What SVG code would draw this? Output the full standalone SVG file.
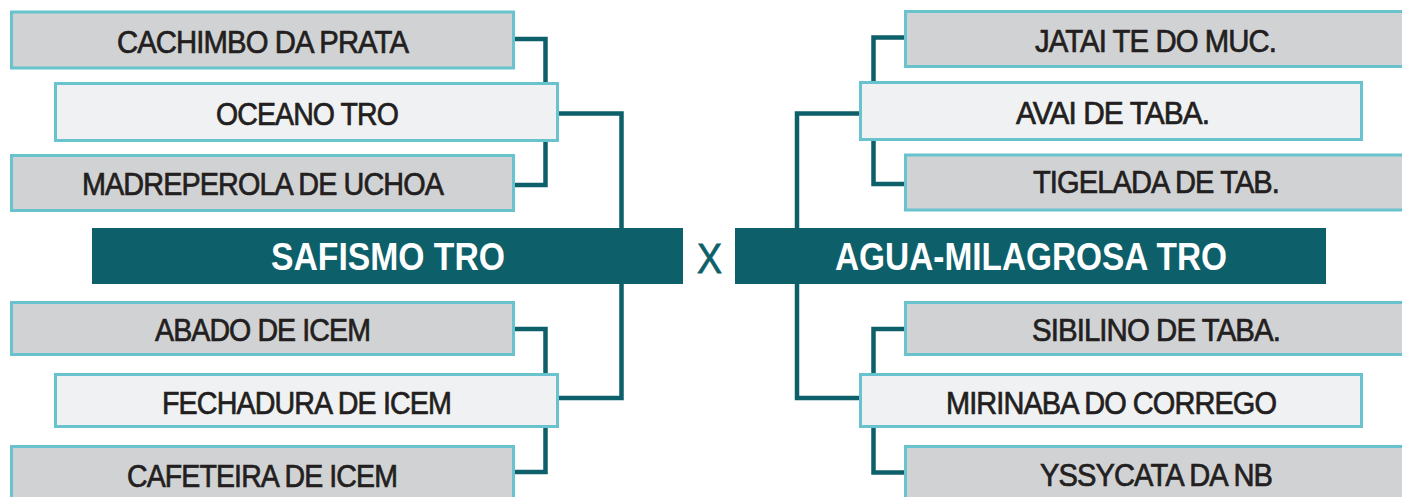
<svg xmlns="http://www.w3.org/2000/svg" width="1402" height="497" viewBox="0 0 1402 497">
<style>
.box{stroke:#68c3cf;stroke-width:3}
.g{fill:#d1d2d4}
.l{fill:#f0f1f3}
.bar{fill:#0d5f6a}
.t{font-family:"Liberation Sans",Arial,sans-serif;font-size:32px;fill:#231f20;stroke:#231f20;stroke-width:0.7px;letter-spacing:-1px}
.bt{font-family:"Liberation Sans",Arial,sans-serif;font-size:38px;font-weight:bold;fill:#ffffff}
.x{font-family:"Liberation Sans",Arial,sans-serif;font-size:42px;fill:#0d5f6a;stroke:#0d5f6a;stroke-width:0.8px}
.c{fill:none;stroke:#0d5f6a;stroke-width:4.5;stroke-linejoin:miter;stroke-linecap:butt}
</style>
<rect width="1402" height="497" fill="#ffffff"/>
<g id="connectors">
<path class="c" d="M515 39 H545.5 V82"/>
<path class="c" d="M515 185 H545.5 V141"/>
<path class="c" d="M559 113.5 H621.5 V228"/>
<path class="c" d="M621.5 284 V398 H559"/>
<path class="c" d="M515 329 H545.5 V373"/>
<path class="c" d="M515 472 H545.5 V428"/>
<path class="c" d="M904 37.5 H873.5 V81"/>
<path class="c" d="M904 184 H873.5 V141"/>
<path class="c" d="M860 113.5 H797 V228"/>
<path class="c" d="M797 284 V398 H860"/>
<path class="c" d="M904 329 H873.5 V373"/>
<path class="c" d="M904 472.5 H873.5 V428"/>
</g>
<g id="cachimbo"><rect class="box g" x="11.5" y="12" width="502" height="56"/><text class="t" x="117" y="53" textLength="291" lengthAdjust="spacingAndGlyphs">CACHIMBO DA PRATA</text></g>
<g id="oceano"><rect class="box l" x="55.5" y="83.5" width="502" height="57"/><text class="t" x="216" y="125" textLength="182" lengthAdjust="spacingAndGlyphs">OCEANO TRO</text></g>
<g id="madreperola"><rect class="box g" x="11.5" y="155.5" width="502" height="55"/><text class="t" x="82" y="195" textLength="361" lengthAdjust="spacingAndGlyphs">MADREPEROLA DE UCHOA</text></g>
<g id="safismo"><rect class="bar" x="92" y="228" width="591" height="56"/><text class="bt" x="271" y="270" textLength="234" lengthAdjust="spacingAndGlyphs">SAFISMO TRO</text></g>
<g id="versus"><text class="x" x="697" y="273" textLength="25" lengthAdjust="spacingAndGlyphs">X</text></g>
<g id="agua"><rect class="bar" x="735" y="228" width="591" height="56"/><text class="bt" x="835" y="270" textLength="392" lengthAdjust="spacingAndGlyphs">AGUA-MILAGROSA TRO</text></g>
<g id="abado"><rect class="box g" x="11.5" y="302.5" width="502" height="52"/><text class="t" x="155" y="341" textLength="215" lengthAdjust="spacingAndGlyphs">ABADO DE ICEM</text></g>
<g id="fechadura"><rect class="box l" x="55.5" y="374.5" width="502" height="52"/><text class="t" x="162" y="414" textLength="289" lengthAdjust="spacingAndGlyphs">FECHADURA DE ICEM</text></g>
<g id="cafeteira"><rect class="box g" x="11.5" y="446.5" width="502" height="60"/><text class="t" x="127" y="487" textLength="270" lengthAdjust="spacingAndGlyphs">CAFETEIRA DE ICEM</text></g>
<g id="jatai"><rect class="box g" x="905.5" y="11.5" width="510" height="55"/><text class="t" x="1035" y="52" textLength="241" lengthAdjust="spacingAndGlyphs">JATAI TE DO MUC.</text></g>
<g id="avai"><rect class="box l" x="860.5" y="82.5" width="501" height="57"/><text class="t" x="1016" y="124" textLength="193" lengthAdjust="spacingAndGlyphs">AVAI DE TABA.</text></g>
<g id="tigelada"><rect class="box g" x="905.5" y="155" width="510" height="55"/><text class="t" x="1033" y="193" textLength="246" lengthAdjust="spacingAndGlyphs">TIGELADA DE TAB.</text></g>
<g id="sibilino"><rect class="box g" x="905.5" y="302.5" width="510" height="52"/><text class="t" x="1032" y="341" textLength="248" lengthAdjust="spacingAndGlyphs">SIBILINO DE TABA.</text></g>
<g id="mirinaba"><rect class="box l" x="860.5" y="374.5" width="501" height="52"/><text class="t" x="946" y="414" textLength="330" lengthAdjust="spacingAndGlyphs">MIRINABA DO CORREGO</text></g>
<g id="yssycata"><rect class="box g" x="905.5" y="446.5" width="510" height="60"/><text class="t" x="1040" y="486" textLength="232" lengthAdjust="spacingAndGlyphs">YSSYCATA DA NB</text></g>
</svg>
